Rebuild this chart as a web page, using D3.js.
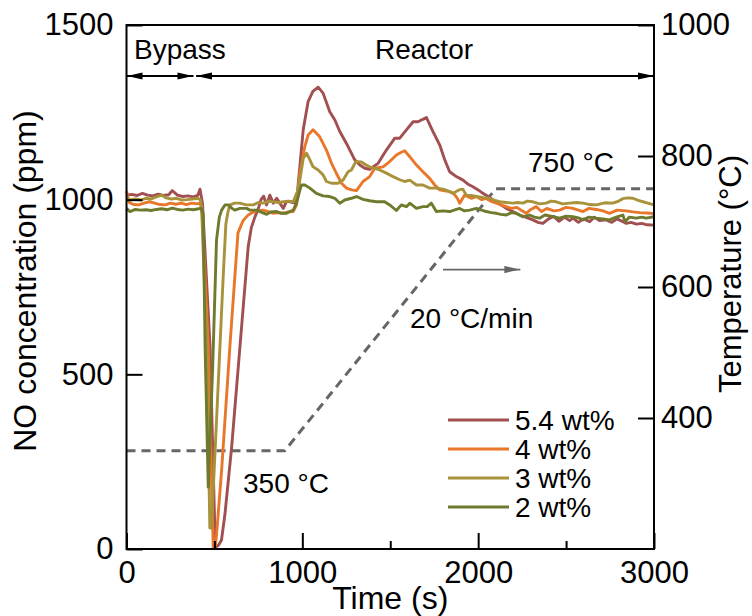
<!DOCTYPE html>
<html>
<head>
<meta charset="utf-8">
<script src="https://cdn.jsdelivr.net/npm/d3@7"></script>
<style>
  body { margin: 0; background: #fff; }
  svg { display: block; font-family: "Liberation Sans", Arial, sans-serif; }
</style>
</head>
<body>
<div id="chart"></div>
<script>
//
// DATA
//

// 5.4 wt%
const t54 = [0,30,60,90,120,150,180,210,240,260,290,320,350,380,405,418,432,475,505,522,540,560,598,645,692,710,730,750,765,780,797,815,835,854,872,892,910,930,958,970,985,1005,1033,1060,1090,1118,1156,1185,1213,1251,1298,1327,1355,1383,1431,1478,1526,1554,1592,1630,1658,1685,1706,1743,1781,1810,1838,1870,1914,1940,1970,2000,2027,2055,2084,2120,2160,2200,2236,2270,2311,2340,2368,2400,2430,2460,2490,2520,2539,2570,2600,2634,2660,2690,2728,2760,2790,2820,2842,2870,2900,2930,2960,3000];
const no54 = [1013,1015,1012,1018,1013,1011,1016,1012,1014,1026,1013,1009,1011,1008,1012,1030,990,580,5,10,25,100,292,578,865,920,950,975,1000,1010,985,1013,990,1004,990,975,995,994,990,1010,1090,1200,1281,1310,1322,1305,1252,1228,1195,1161,1114,1099,1090,1087,1104,1142,1176,1176,1200,1223,1223,1230,1235,1195,1157,1114,1080,1068,1056,1045,1037,1028,1018,1010,999,988,975,965,956,950,942,935,932,945,952,938,950,940,947,935,945,937,950,940,942,935,945,938,932,935,930,932,928,927];

// 4 wt%
const t4 = [0,15,40,70,100,130,160,190,220,250,280,310,340,370,400,420,430,465,493,505,512,541,588,634,663,690,711,740,778,810,835,865,892,920,948,967,986,1014,1033,1061,1099,1137,1166,1194,1223,1251,1280,1308,1345,1383,1412,1459,1497,1535,1560,1582,1611,1649,1686,1724,1753,1781,1810,1838,1860,1880,1895,1923,1961,1990,2020,2046,2075,2103,2130,2160,2190,2220,2250,2273,2300,2330,2360,2390,2430,2463,2500,2539,2570,2596,2630,2672,2710,2747,2790,2842,2880,2918,2960,3000];
const no4 = [1025,992,986,985,990,994,990,986,985,990,987,990,986,990,988,990,960,580,5,10,40,226,580,905,940,955,962,968,970,965,961,963,961,965,966,985,1075,1152,1185,1200,1180,1142,1104,1075,1047,1033,1028,1026,1052,1066,1090,1094,1109,1128,1135,1140,1123,1099,1080,1061,1042,1028,1025,1023,1018,1005,990,1013,1004,1009,1000,1004,995,990,985,980,975,978,968,961,972,980,966,975,968,970,978,975,970,966,975,972,968,961,970,968,965,963,962,960];

// 3 wt%
const t3 = [0,20,50,80,110,140,170,200,225,255,285,315,345,375,405,420,427,456,474,483,515,549,565,577,588,615,645,680,721,750,778,805,835,865,892,920,948,976,986,1005,1024,1043,1061,1090,1118,1137,1166,1203,1232,1260,1279,1304,1336,1360,1383,1410,1440,1478,1516,1554,1582,1611,1649,1686,1724,1762,1800,1830,1857,1890,1913,1933,1960,1990,2030,2065,2095,2122,2160,2198,2225,2254,2280,2311,2350,2387,2415,2444,2480,2520,2560,2596,2635,2672,2720,2766,2795,2823,2850,2880,2910,2937,2965,3000];
const no3 = [1004,999,1002,999,1004,1002,1008,1013,1005,1002,1004,999,1000,1002,1004,1000,980,580,60,60,400,770,930,965,985,990,990,985,985,992,990,995,994,992,994,996,994,1028,1056,1118,1133,1114,1094,1085,1071,1052,1047,1047,1056,1080,1085,1109,1108,1100,1094,1090,1085,1076,1066,1057,1052,1056,1042,1042,1033,1033,1030,1025,1018,1028,1030,1013,1012,1009,1006,1004,998,994,992,990,992,990,996,994,988,990,996,994,988,990,992,990,986,985,991,990,995,1003,1005,1004,998,994,990,985];

// 2 wt%
const t2 = [0,20,50,80,110,140,170,200,230,260,290,320,350,380,410,425,436,447,465,490,512,528,541,560,578,600,615,645,683,702,740,759,797,820,854,880,911,930,948,967,985,995,1014,1043,1080,1118,1156,1185,1213,1241,1279,1308,1345,1383,1421,1468,1497,1535,1563,1592,1611,1649,1686,1710,1734,1762,1800,1838,1876,1895,1920,1952,1990,2020,2046,2075,2103,2130,2160,2190,2216,2254,2292,2320,2349,2380,2420,2463,2500,2539,2570,2596,2630,2672,2710,2747,2785,2823,2835,2860,2899,2930,2956,3000];
const no2 = [975,966,972,970,971,969,972,974,971,976,972,970,973,971,974,975,960,580,177,520,885,950,970,985,985,975,970,975,975,970,970,966,958,965,966,961,961,966,970,990,1025,1042,1042,1033,1018,1011,1009,1004,990,999,1004,1009,1001,997,994,994,985,969,985,980,990,975,980,980,990,966,968,966,972,975,968,970,975,970,966,963,961,958,956,963,961,951,956,950,947,956,952,947,953,951,948,942,950,947,945,942,950,956,937,950,947,950,947,951];

const seriesNames = ['5.4 wt%', '4 wt%', '3 wt%', '2 wt%'];
const seriesColors = ['#a14f50', '#e8772a', '#a8923a', '#6f7a2c'];

// temperature programme
const tempTime = [0, 900, 2100, 3000];
const tempValue = [350, 350, 750, 750];

// ticks
const xTicks = [0, 1000, 2000, 3000];
const xMinorTicks = [500, 1500, 2500];
const yTicks = [0, 500, 1000, 1500];
const tTicks = [400, 600, 800, 1000];

// phases (s)
const phaseNames = ['Bypass', 'Reactor'];
const phaseStart = [0, 396];
const phaseEnd = [381, 3000];

//
// CHART
//

const width = 752;
const height = 616;
const margin = {top: 25, right: 98, bottom: 67, left: 126.5};

const svg = d3.select('#chart')
    .append('svg')
        .attr('width', width)
        .attr('height', height);

const x = d3.scaleLinear()
    .domain([0, 3000])
    .range([margin.left, width - margin.right]);
const y = d3.scaleLinear()
    .domain([0, 1500])
    .range([height - margin.bottom, margin.top]);
const yT = d3.scaleLinear()
    .domain([200, 1000])
    .range([height - margin.bottom, margin.top]);

// arrow heads
const defs = svg.append('defs');
function head(id, colour) {
    defs.append('marker')
        .attr('id', id)
        .attr('viewBox', [0, -4, 16, 8])
        .attr('refX', 16)
        .attr('refY', 0)
        .attr('markerUnits', 'userSpaceOnUse')
        .attr('markerWidth', 16)
        .attr('markerHeight', 8)
        .attr('orient', 'auto-start-reverse')
        .append('path')
            .attr('d', 'M0,-3.6L16,0L0,3.6Z')
            .attr('fill', colour);
}
head('blackhead', '#000');
head('greyhead', '#666');

// temperature line
const tl = d3.line()
    .x((d, i) => x(tempTime[i]))
    .y(d => yT(d));
svg.append('path')
    .datum(tempValue)
        .attr('fill', 'none')
        .attr('stroke', '#666')
        .attr('stroke-width', 3)
        .attr('stroke-dasharray', '9,6')
        .attr('d', tl);

// NO series
const series = [
    {t: t54, v: no54},
    {t: t4, v: no4},
    {t: t3, v: no3},
    {t: t2, v: no2}
];
const l = d3.line()
    .x(d => x(d[0]))
    .y(d => y(d[1]));
series.forEach((s, k) => {
    svg.append('path')
        .datum(s.t.map((t, i) => [t, s.v[i]]))
            .attr('fill', 'none')
            .attr('stroke', seriesColors[k])
            .attr('stroke-width', 2.9)
            .attr('stroke-linejoin', 'round')
            .attr('d', l);
});

// axes
const fs = 31;
const fmt = d3.format('d');
const xx = g =>
    g
        .attr('transform', `translate(0,${height - margin.bottom})`)
        .call(d3.axisBottom(x)
            .tickValues(xTicks)
            .tickFormat(fmt)
            .tickSize(-16)
            .tickPadding(12))
        .call(g => g.select('.domain').remove());
const xm = g =>
    g
        .attr('transform', `translate(0,${height - margin.bottom})`)
        .call(d3.axisBottom(x)
            .tickValues(xMinorTicks)
            .tickFormat('')
            .tickSize(-8))
        .call(g => g.select('.domain').remove());
const yx = g =>
    g
        .attr('transform', `translate(${margin.left},0)`)
        .call(d3.axisLeft(y)
            .tickValues(yTicks)
            .tickFormat(fmt)
            .tickSize(-16)
            .tickPadding(13))
        .call(g => g.select('.domain').remove());
const tx = g =>
    g
        .attr('transform', `translate(${width - margin.right},0)`)
        .call(d3.axisRight(yT)
            .tickValues(tTicks)
            .tickFormat(fmt)
            .tickSize(-16)
            .tickPadding(7))
        .call(g => g.select('.domain').remove());

[xx, xm, yx, tx].forEach(a => {
    svg.append('g')
        .call(a)
        .call(g => g.selectAll('.tick line')
            .attr('stroke', '#000')
            .attr('stroke-width', 2))
        .call(g => g.selectAll('.tick text')
            .attr('fill', '#000')
            .style('font-size', `${fs}px`)
            .style('font-family', '"Liberation Sans", Arial, sans-serif'));
});

// frame
svg.append('rect')
    .attr('x', margin.left)
    .attr('y', margin.top)
    .attr('width', width - margin.left - margin.right)
    .attr('height', height - margin.top - margin.bottom)
    .attr('fill', 'none')
    .attr('stroke', '#000')
    .attr('stroke-width', 2);

// axis titles
svg.append('text')
    .attr('transform', `translate(${(margin.left + width - margin.right) / 2},${height - 7})`)
    .attr('text-anchor', 'middle')
    .attr('font-size', 32)
    .text('Time (s)');
svg.append('text')
    .attr('transform', `translate(36,${(margin.top + height - margin.bottom) / 2 - 6}) rotate(-90)`)
    .attr('text-anchor', 'middle')
    .attr('font-size', 32)
    .text('NO concentration (ppm)');
svg.append('text')
    .attr('transform', `translate(741,${(margin.top + height - margin.bottom) / 2 - 13}) rotate(-90)`)
    .attr('text-anchor', 'middle')
    .attr('font-size', 31)
    .text('Temperature (\u00B0C)');

// phase arrows
const arrowY = 76;
phaseNames.forEach((p, i) => {
    svg.append('line')
        .attr('x1', x(phaseStart[i]))
        .attr('x2', x(phaseEnd[i]))
        .attr('y1', arrowY)
        .attr('y2', arrowY)
        .attr('stroke', '#000')
        .attr('stroke-width', 1.8)
        .attr('marker-start', 'url(#blackhead)')
        .attr('marker-end', 'url(#blackhead)');
});
svg.append('text')
    .attr('x', 134)
    .attr('y', 59)
    .attr('font-size', 28)
    .text(phaseNames[0]);
svg.append('text')
    .attr('x', 375)
    .attr('y', 59)
    .attr('font-size', 28)
    .text(phaseNames[1]);

// annotations
svg.append('text')
    .attr('x', 528)
    .attr('y', 172)
    .attr('font-size', 28)
    .text('750 \u00B0C');
svg.append('text')
    .attr('x', 410)
    .attr('y', 328)
    .attr('font-size', 28)
    .text('20 \u00B0C/min');
svg.append('text')
    .attr('x', 243)
    .attr('y', 493)
    .attr('font-size', 28)
    .text('350 \u00B0C');

// grey arrow towards temperature axis
svg.append('line')
    .attr('x1', x(1800))
    .attr('x2', x(2240))
    .attr('y1', y(800))
    .attr('y2', y(800))
    .attr('stroke', '#666')
    .attr('stroke-width', 1.8)
    .attr('marker-end', 'url(#greyhead)');

// legend
const legend = svg.append('g')
    .attr('transform', 'translate(448,420)');
seriesNames.forEach((n, i) => {
    const row = legend.append('g')
        .attr('transform', `translate(0,${i * 29})`);
    row.append('line')
        .attr('x1', 0)
        .attr('x2', 61)
        .attr('stroke', seriesColors[i])
        .attr('stroke-width', 3);
    row.append('text')
        .attr('x', 67)
        .attr('y', 10)
        .attr('font-size', 28)
        .text(n);
});
</script>
</body>
</html>
